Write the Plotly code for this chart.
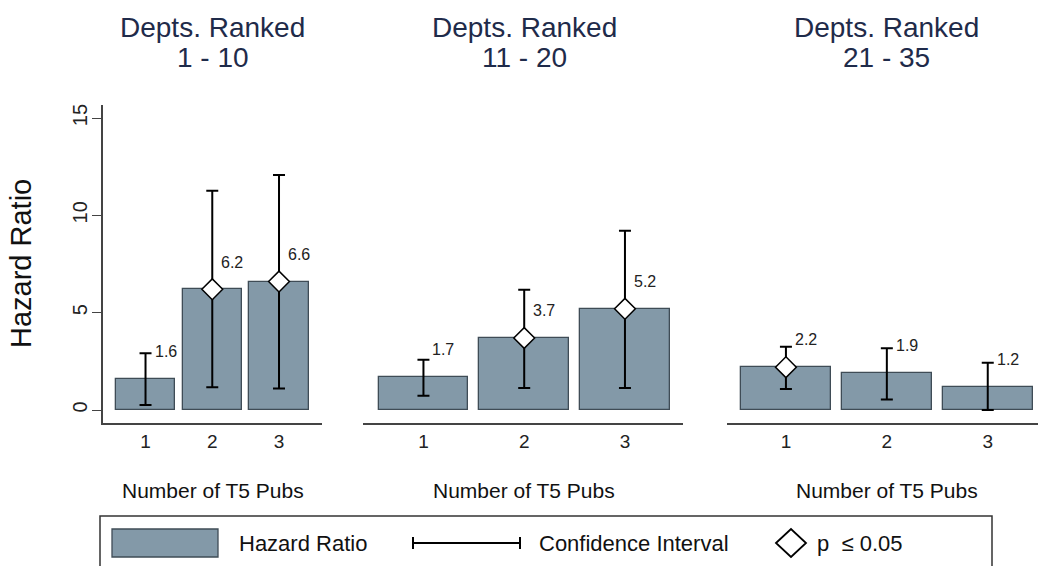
import plotly.graph_objects as go

# ---- data ----
categories = [1, 2, 3]
panel_title_line1 = ["Depts. Ranked", "Depts. Ranked", "Depts. Ranked"]
panel_title_line2 = ["1 - 10", "11 - 20", "21 - 35"]
hazard_ratio = [
    [1.6, 6.2, 6.6],
    [1.7, 3.7, 5.2],
    [2.2, 1.9, 1.2],
]
ci_low = [
    [0.26, 1.17, 1.11],
    [0.73, 1.13, 1.13],
    [1.08, 0.54, 0.0],
]
ci_high = [
    [2.91, 11.26, 12.07],
    [2.58, 6.18, 9.21],
    [3.25, 3.17, 2.43],
]
significant = [
    [False, True, True],
    [False, True, True],
    [True, False, False],
]
label_offset = 1.4
y_ticks = [0, 5, 10, 15]

W, H = 1038, 566
FONT = "Liberation Sans, Arial, Helvetica, sans-serif"
BAR_COLOR = "#8399a8"
BAR_LINE = "#3f4c56"
TITLE_COLOR = "#1f2b4a"
AXIS_COLOR = "#444444"

def px(x):
    return x / W

def py(y):
    return 1 - y / H

x_domains = [[px(103), px(322)], [px(363), px(683)], [px(727), 1.0]]
x_ranges = [[0.363, 3.644], [0.40, 3.576], [0.416, 3.498]]
y_domain = [py(423), py(105)]
y_range = [-0.667, 15.67]

fig = go.Figure()

for i in range(3):
    xa = "x" if i == 0 else f"x{i+1}"
    ya = "y" if i == 0 else f"y{i+1}"
    hr = hazard_ratio[i]
    lo = ci_low[i]
    hi = ci_high[i]
    fig.add_trace(go.Bar(
        x=categories, y=hr, width=0.89,
        marker=dict(color=BAR_COLOR, line=dict(color=BAR_LINE, width=1.3)),
        error_y=dict(type="data", symmetric=False,
                     array=[h - v for h, v in zip(hi, hr)],
                     arrayminus=[v - l for v, l in zip(hr, lo)],
                     color="black", thickness=2, width=6),
        xaxis=xa, yaxis=ya, showlegend=False, hoverinfo="skip",
    ))
    sx = [c for c, s in zip(categories, significant[i]) if s]
    sy = [v for v, s in zip(hr, significant[i]) if s]
    fig.add_trace(go.Scatter(
        x=sx, y=sy, mode="markers",
        marker=dict(symbol="diamond", size=16, color="white",
                    line=dict(color="black", width=1.5)),
        xaxis=xa, yaxis=ya, showlegend=False, hoverinfo="skip",
    ))
    for c, v in zip(categories, hr):
        fig.add_annotation(
            x=c, y=v + label_offset, xref=xa, yref=ya,
            text=f"{v:.1f}", showarrow=False, xanchor="left", yanchor="middle",
            xshift=7, font=dict(family=FONT, size=16, color="#222222"),
        )
    xkey = "xaxis" if i == 0 else f"xaxis{i+1}"
    ykey = "yaxis" if i == 0 else f"yaxis{i+1}"
    fig.update_layout(**{
        xkey: dict(domain=x_domains[i], range=x_ranges[i], anchor=ya,
                   tickmode="array", tickvals=categories,
                   ticktext=[str(c) for c in categories],
                   ticks="", ticklen=0,
                   showline=True, linecolor=AXIS_COLOR, linewidth=1.5,
                   showgrid=False, zeroline=False, fixedrange=True,
                   tickfont=dict(family=FONT, size=19, color="#222222")),
        ykey: dict(domain=y_domain, range=y_range, anchor=xa,
                   showgrid=False, zeroline=False, fixedrange=True,
                   visible=(i == 0),
                   tickmode="array", tickvals=y_ticks,
                   ticks="outside", ticklen=9, tickcolor=AXIS_COLOR, tickwidth=1.2,
                   showline=True, linecolor=AXIS_COLOR, linewidth=1.5,
                   tickangle=-90, ticklabelstandoff=-3,
                   tickfont=dict(family=FONT, size=20, color="#222222")),
    })

# panel titles and x-axis titles
title_centers = [212.5, 524, 886.7]
for i in range(3):
    fig.add_annotation(
        x=px(title_centers[i]), y=py(27), xref="paper", yref="paper",
        text=panel_title_line1[i], showarrow=False, xanchor="center", yanchor="middle",
        font=dict(family=FONT, size=28, color=TITLE_COLOR),
    )
    fig.add_annotation(
        x=px(title_centers[i]), y=py(57), xref="paper", yref="paper",
        text=panel_title_line2[i], showarrow=False, xanchor="center", yanchor="middle",
        font=dict(family=FONT, size=28, color=TITLE_COLOR),
    )
    fig.add_annotation(
        x=px(title_centers[i]), y=py(491), xref="paper", yref="paper",
        text="Number of T5 Pubs", showarrow=False, xanchor="center", yanchor="middle",
        font=dict(family=FONT, size=21, color="#111111"),
    )

# y-axis title
fig.add_annotation(
    x=px(21), y=py(264), xref="paper", yref="paper", text="Hazard Ratio",
    textangle=-90, showarrow=False, xanchor="center", yanchor="middle",
    font=dict(family=FONT, size=29, color="#111111"),
)

# ---- legend (drawn manually) ----
shapes = []
shapes.append(dict(type="rect", xref="paper", yref="paper",
                   x0=px(100), x1=px(992), y0=py(575), y1=py(516),
                   line=dict(color="#333333", width=1.5), fillcolor="rgba(0,0,0,0)"))
shapes.append(dict(type="rect", xref="paper", yref="paper",
                   x0=px(112), x1=px(218), y0=py(557), y1=py(529),
                   line=dict(color=BAR_LINE, width=1.3), fillcolor=BAR_COLOR))
ly = 543
shapes.append(dict(type="line", xref="paper", yref="paper",
                   x0=px(413), x1=px(520), y0=py(ly), y1=py(ly),
                   line=dict(color="black", width=2)))
for cx in (413, 520):
    shapes.append(dict(type="line", xref="paper", yref="paper",
                       x0=px(cx), x1=px(cx), y0=py(ly - 6), y1=py(ly + 6),
                       line=dict(color="black", width=2)))
dcx, dcy, dw, dh = 791, 543, 15, 14
shapes.append(dict(type="path", xref="paper", yref="paper",
                   path=(f"M {px(dcx - dw)},{py(dcy)} L {px(dcx)},{py(dcy - dh)} "
                         f"L {px(dcx + dw)},{py(dcy)} L {px(dcx)},{py(dcy + dh)} Z"),
                   line=dict(color="black", width=1.8), fillcolor="white"))
fig.update_layout(shapes=shapes)

legend_texts = [(237, "Hazard Ratio"), (537, "Confidence Interval"), (815, "p  \u2264 0.05")]
for x0, t in legend_texts:
    fig.add_annotation(
        x=px(x0), y=py(ly), xref="paper", yref="paper", text=t,
        showarrow=False, xanchor="left", yanchor="middle",
        font=dict(family=FONT, size=22, color="#111111"),
    )

fig.update_layout(
    width=W, height=H,
    margin=dict(l=0, r=0, t=0, b=0),
    paper_bgcolor="white", plot_bgcolor="white",
    bargap=0, showlegend=False,
)

fig.write_html(
    "out.html",
    config={"displayModeBar": False},
    post_script="document.body.style.margin='0';document.body.style.overflow='hidden';",
)
